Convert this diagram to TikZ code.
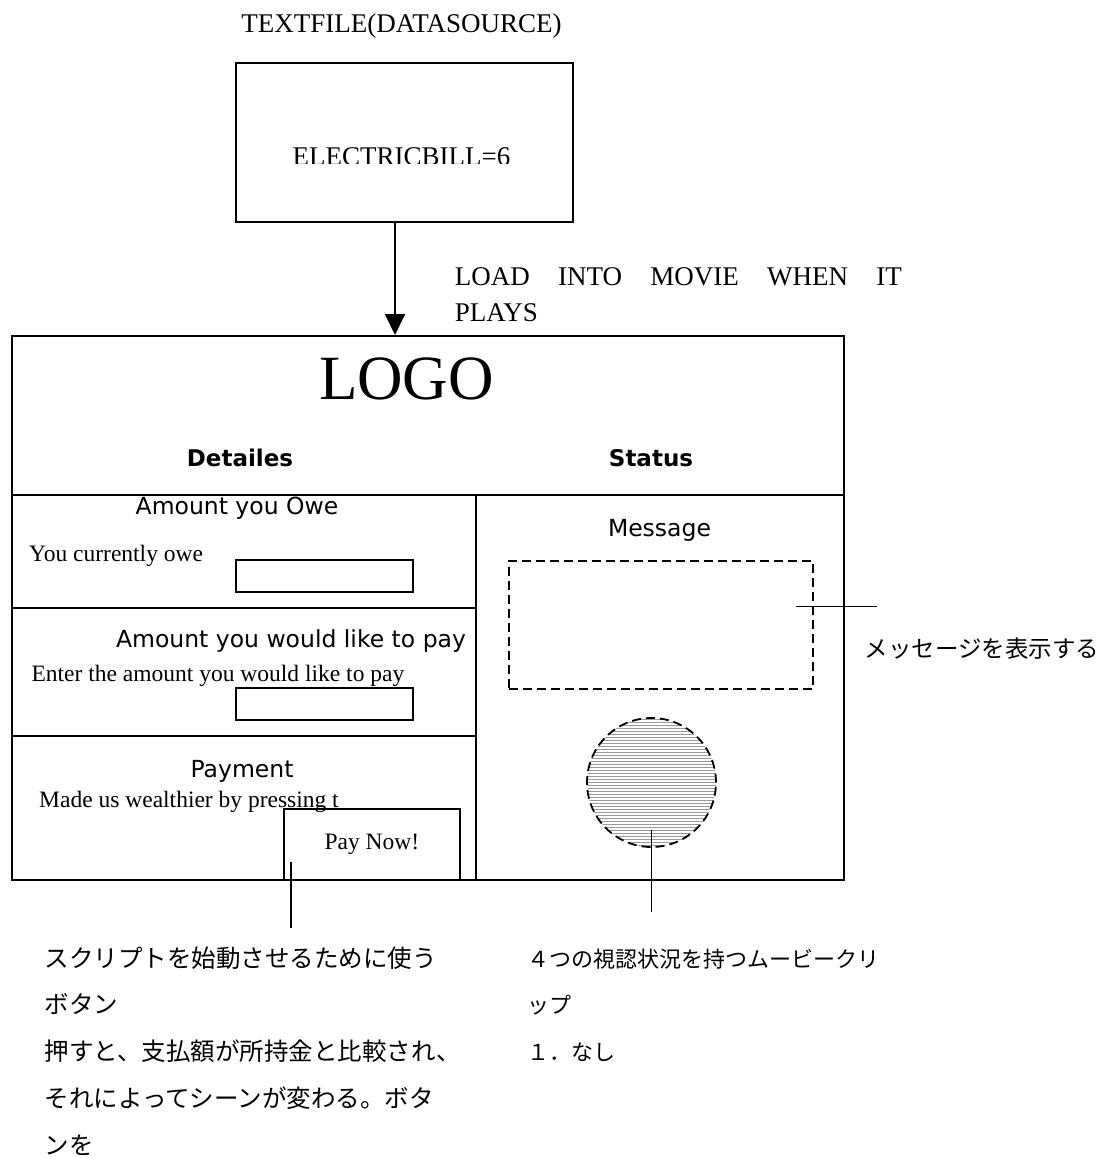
\documentclass[tikz,border=0pt]{standalone}
\usepackage{fontspec}
\setmainfont{Liberation Serif}
\newfontfamily\sansf{DejaVu Sans}
\newfontfamily\cjk{Noto Sans CJK JP}
\usetikzlibrary{arrows.meta}
\begin{document}
\begin{tikzpicture}[x=1pt,y=-1pt,line width=1.8pt,
  box/.style={draw,line width=1.8pt,inner sep=0pt,anchor=north west},
  dbox/.style={box,dash pattern=on 9pt off 5pt},
  txt/.style={inner sep=0pt},
  serifL/.style={txt,font=\fontsize{27}{32}\selectfont},
  serif/.style={txt,font=\fontsize{23.5}{28}\selectfont},
  sans/.style={txt,font=\sansf\fontsize{23.5}{28}\selectfont},
  sansB/.style={txt,font=\sansf\bfseries\fontsize{23}{28}\selectfont},
  cjkL/.style={txt,font=\cjk\fontsize{24.5}{46.8}\selectfont,align=left,text width=460pt},
  cjkR/.style={txt,font=\cjk\fontsize{22}{46.8}\selectfont,align=left,text width=400pt},
  callout/.style={draw,line width=1.5pt},
  hatch/.style={draw=black!40,line width=0.7pt}]
\useasboundingbox (0,0) rectangle (1100,1158);

% data source
\node[serifL,anchor=base] (title) at (401.5,33) {TEXTFILE(DATASOURCE)};
\node[box,minimum width=337pt,minimum height=159pt] (src) at (235,62) {};
\begin{scope}
  \clip (236,63) rectangle (570,163.5);
  \node[serifL,anchor=base] (bill) at (401.5,166) {ELECTRICBILL=6};
\end{scope}

% load label
\node[serifL,anchor=base west] (load1) at (454,285) {\makebox[447pt][s]{LOAD INTO MOVIE WHEN IT}};
\node[serifL,anchor=base west] (load2) at (454,321.5) {PLAYS};

% header
\node[box,minimum width=832pt,minimum height=159pt] (hdr) at (11,335) {};
\node[txt,font=\fontsize{63}{63}\selectfont,anchor=base] (logo) at (406.5,399) {LOGO};
\node[sansB,anchor=base] (det) at (240,466) {Detailes};
\node[sansB,anchor=base] (stat) at (651,466) {Status};

% arrow
\coordinate (ax) at (395,0);
\draw[-{Triangle[length=21pt,width=20pt]}] (src.south -| ax) -- (hdr.north -| ax);

% left column
\node[box,minimum width=464pt,minimum height=113pt] (owe) at (11,494) {};
\node[box,minimum width=464pt,minimum height=128pt] (topay) at (11,607) {};
\node[box,minimum width=464pt,minimum height=144pt] (payment) at (11,735) {};

\node[sans,anchor=base] (oweT) at (237,514) {Amount you Owe};
\node[serif,anchor=base west] (oweL) at (28.3,561) {You currently owe};
\node[box,minimum width=177pt,minimum height=32pt] (in1) at (235,559) {};

\node[sans,anchor=base] (topayT) at (291,647.7) {Amount you would like to pay};
\node[serif,anchor=base west] (topayL) at (30.7,681) {Enter the amount you would like to pay};
\node[box,minimum width=177pt,minimum height=32pt] (in2) at (235,687) {};

\node[sans,anchor=base] (paymentT) at (242,777) {Payment};
\node[serif,anchor=base west] (paymentL) at (38.3,807) {Made us wealthier by pressing t};
\node[box,serif,minimum width=176pt,minimum height=71pt] (pay) at (283,808) {Pay Now!};

% right column
\node[box,minimum width=368pt,minimum height=385pt] (status) at (475,494) {};
\node[sans,anchor=base] (msgT) at (659.5,536) {Message};
\node[dbox,minimum width=304pt,minimum height=128pt] (msgbox) at (508,560) {};
\coordinate (cc) at (651.5,782.5);
\begin{scope}
  \clip (cc) circle [radius=64.5pt];
  \foreach \yy in {719,722,...,848} \draw[hatch] (580,\yy) -- (725,\yy);
\end{scope}
\node[circle,draw,dash pattern=on 9pt off 5pt,line width=1.8pt,minimum size=129pt,inner sep=0pt] (clip) at (cc) {};

% callouts
\coordinate (m1) at (796,606.5);
\coordinate (m2) at (877,606.5);
\draw[callout] (m1) -- (m2);
\node[txt,font=\cjk\fontsize{23.5}{28}\selectfont,anchor=west] (msgnote) at (864,649) {メッセージを表示する};

\coordinate (b1) at (291,862);
\coordinate (b2) at (291,927.5);
\draw[callout] (b1) -- (b2);

\coordinate (r1) at (651.5,830);
\coordinate (r2) at (651.5,911.5);
\draw[callout] (r1) -- (r2);

\node[cjkL,anchor=base west] (btnnote) at (44,967)
  {スクリプトを始動させるために使う\\ボタン\\押すと、支払額が所持金と比較され、\\それによってシーンが変わる。ボタ\\ンを};
\node[cjkR,anchor=base west] (clipnote) at (527,967)
  {４つの視認状況を持つムービークリ\\ップ\\１．なし};
\end{tikzpicture}
\end{document}
